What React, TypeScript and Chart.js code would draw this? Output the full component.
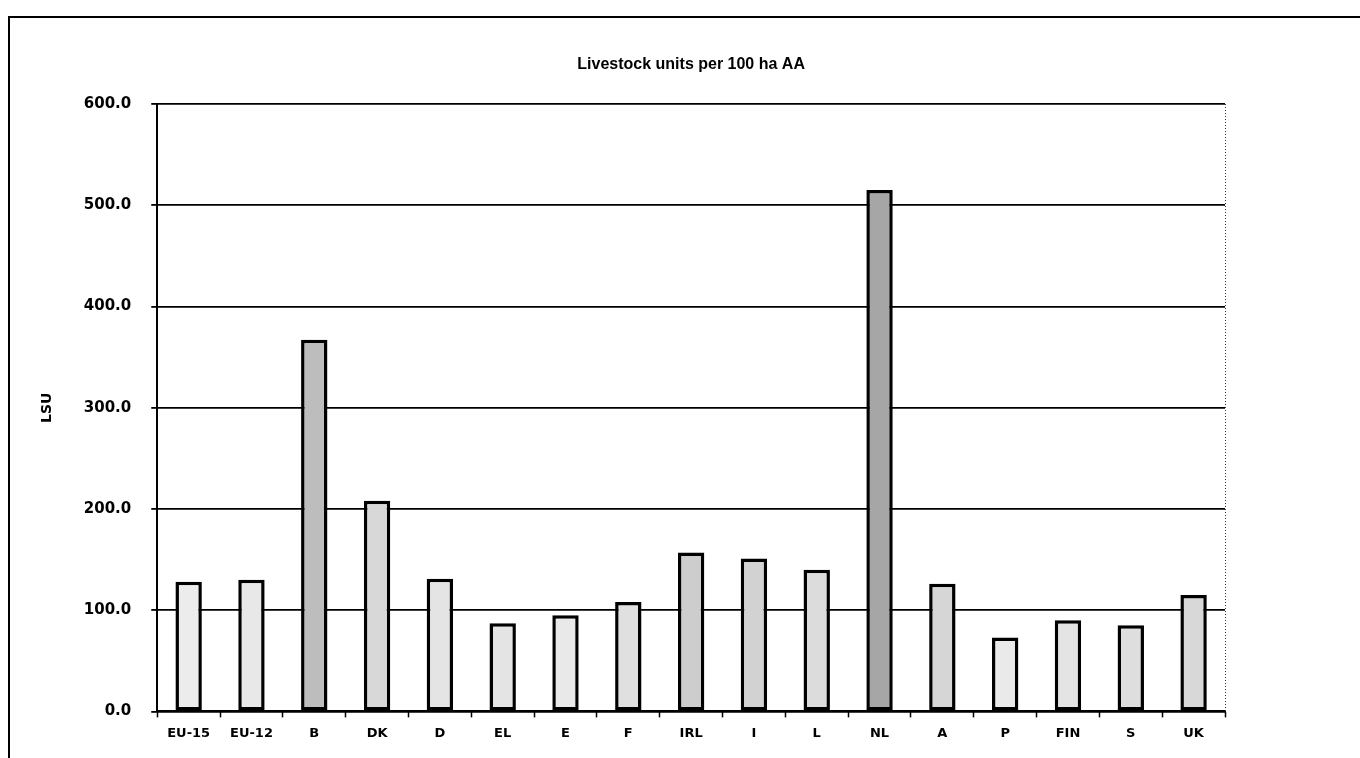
import React, { useEffect, useRef } from "react";
import { Chart, registerables } from "chart.js";

Chart.register(...registerables);

const categories = ["EU-15", "EU-12", "B", "DK", "D", "EL", "E", "F", "IRL", "I", "L", "NL", "A", "P", "FIN", "S", "UK"];
const lsuValues = [128, 130, 367, 208, 131, 87, 95, 108, 157, 151, 140, 515, 126, 73, 90, 85, 115];
const barFills = ["#ececec", "#e8e8e8", "#bdbdbd", "#d8d8d8", "#e4e4e4", "#e4e4e4", "#e9e9e9", "#e0e0e0", "#cdcdcd", "#d2d2d2", "#dcdcdc", "#a6a6a6", "#d6d6d6", "#eaeaea", "#e4e4e4", "#dedede", "#d8d8d8"];
const chartTitle = "Livestock units per 100 ha AA";
const yAxisTitle = "LSU";
const yMin = 0;
const yMax = 600;
const yStep = 100;

const ARIAL = "'Liberation Sans', Arial, sans-serif";
const WIDE = "'DejaVu Sans', 'Liberation Sans', sans-serif";

const titlePlugin = {
  id: "centredTitle",
  afterDraw(chart: any) {
    const { ctx, chartArea } = chart;
    ctx.save();
    ctx.fillStyle = "#000";
    ctx.font = `bold 16px ${ARIAL}`;
    ctx.textAlign = "center";
    ctx.textBaseline = "middle";
    ctx.fillText(chartTitle, (chartArea.left + chartArea.right) / 2, 43);
    ctx.restore();
  },
};

const rightBorderPlugin = {
  id: "rightBorder",
  afterDraw(chart: any) {
    const { ctx, chartArea } = chart;
    ctx.save();
    ctx.strokeStyle = "#333";
    ctx.lineWidth = 1;
    ctx.setLineDash([1, 2]);
    ctx.beginPath();
    ctx.moveTo(chartArea.right + 0.5, chartArea.top);
    ctx.lineTo(chartArea.right + 0.5, chartArea.bottom);
    ctx.stroke();
    ctx.restore();
  },
};

export default function App() {
  const canvasRef = useRef<HTMLCanvasElement | null>(null);

  useEffect(() => {
    document.body.style.overflow = "hidden";
    const canvas = canvasRef.current;
    if (!canvas) return;
    const chart = new Chart(canvas, {
      type: "bar",
      data: {
        labels: categories,
        datasets: [
          {
            data: lsuValues,
            backgroundColor: barFills,
            borderColor: "#000",
            borderWidth: 3.5,
            borderSkipped: false,
            barPercentage: 0.42,
            categoryPercentage: 1,
          },
        ],
      },
      options: {
        responsive: false,
        animation: false,
        layout: { padding: { left: 19, right: 135, top: 82, bottom: 9 } },
        plugins: {
          legend: { display: false },
          tooltip: { enabled: false },
          title: { display: false },
        },
        scales: {
          x: {
            grid: {
              offset: true,
              drawOnChartArea: false,
              drawTicks: true,
              tickLength: 6,
              tickColor: "#000",
              tickWidth: 1.5,
            },
            border: { color: "#000", width: 2 },
            ticks: {
              color: "#000",
              font: { family: WIDE, size: 13, weight: "bold" },
              padding: 8,
              maxRotation: 0,
              autoSkip: false,
            },
          },
          y: {
            min: yMin,
            max: yMax,
            grid: {
              color: "#000",
              lineWidth: 1.8,
              drawTicks: true,
              tickLength: 6,
              tickColor: "#000",
            },
            border: { color: "#000", width: 2 },
            ticks: {
              stepSize: yStep,
              color: "#000",
              font: { family: WIDE, size: 15, weight: "bold" },
              padding: 20,
              callback: (v: any) => Number(v).toFixed(1),
            },
            title: {
              display: true,
              text: yAxisTitle,
              color: "#000",
              font: { family: WIDE, size: 14, weight: "bold" },
              padding: { top: 0, bottom: 8 },
            },
          },
        },
      },
      plugins: [titlePlugin, rightBorderPlugin],
    });
    return () => chart.destroy();
  }, []);

  return (
    <div>
      <div
        style={{
          position: "absolute",
          left: 8,
          top: 16,
          width: 1352,
          height: 742,
          borderLeft: "2px solid #000",
          borderTop: "2px solid #000",
          boxSizing: "border-box",
        }}
      />
      <canvas
        ref={canvasRef}
        width={1340}
        height={736}
        style={{ position: "absolute", left: 20, top: 22, width: 1340, height: 736 }}
      />
    </div>
  );
}
